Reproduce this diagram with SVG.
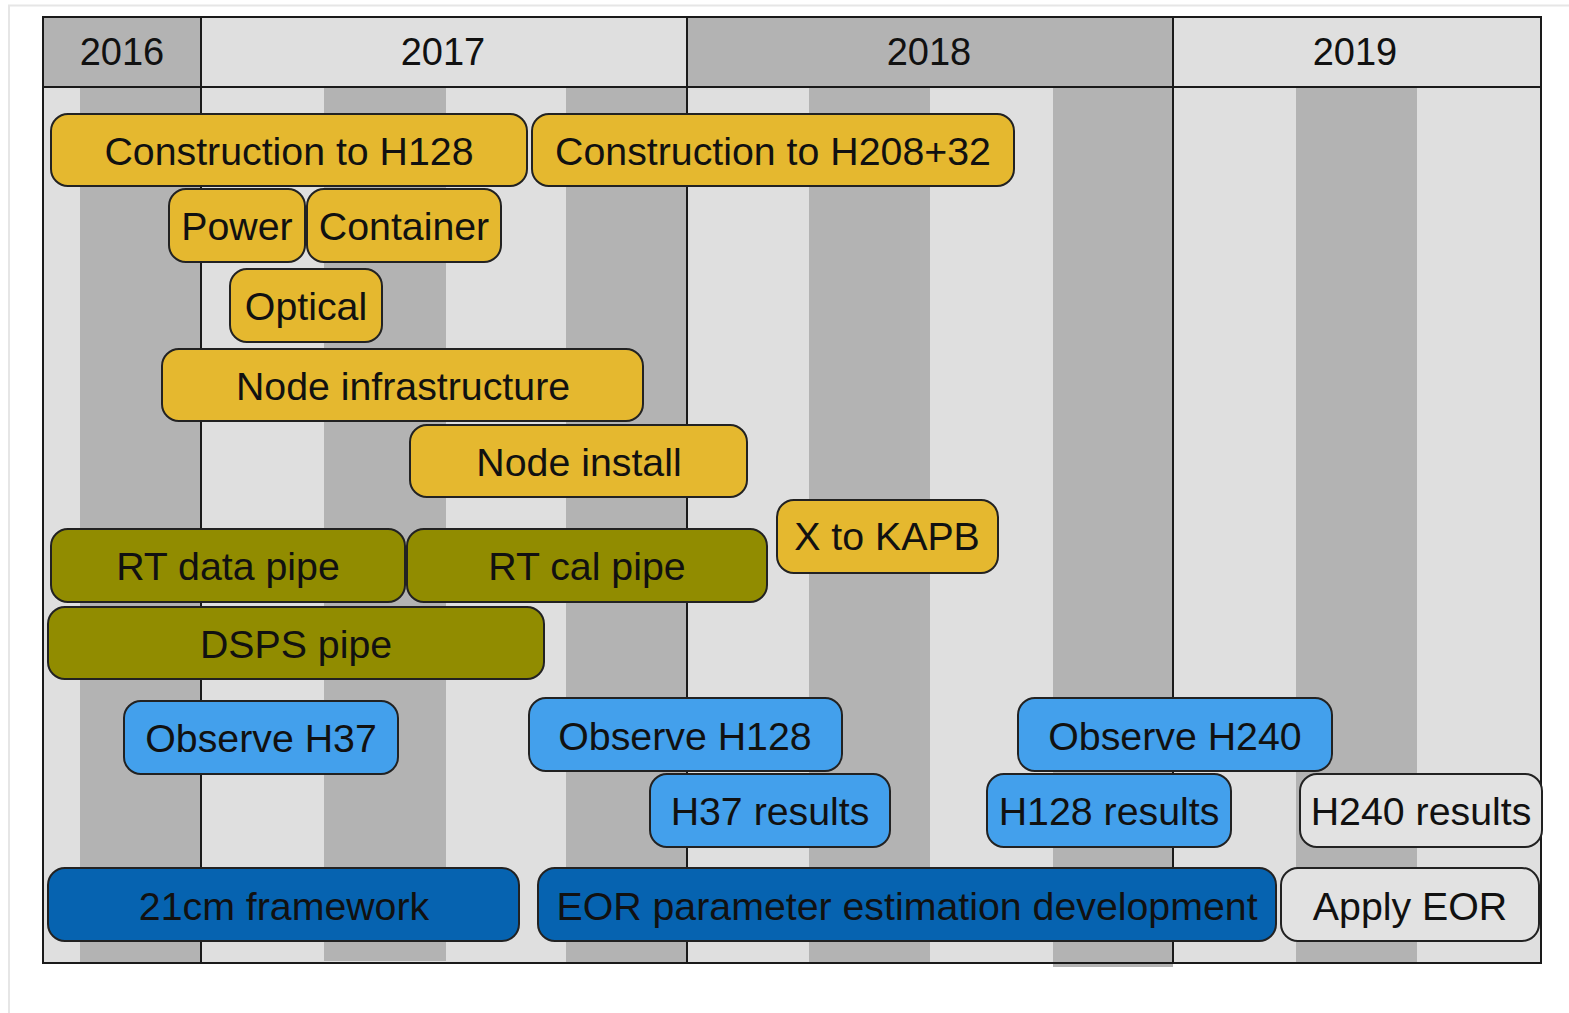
<svg xmlns="http://www.w3.org/2000/svg" width="1569" height="1013" viewBox="0 0 1569 1013">
<style>
.bg{fill:#dfdfdf}
.dk{fill:#b3b3b3}
.ln{stroke:#1a1a1a;stroke-width:2;fill:none}
.box{stroke:#222;stroke-width:2}
.y{fill:#e5b82f}
.o{fill:#918c00}
.lb{fill:#43a0ec}
.db{fill:#0663b0}
.g{fill:#e2e2e2}
text{font-family:"Liberation Sans",Arial,Helvetica,sans-serif;font-size:39.3px;fill:#111;text-anchor:middle}
#header text{font-size:38px}
</style>
<rect x="0" y="0" width="1569" height="1013" fill="#ffffff"/>
<path d="M9 1013 V5.5 H1569" stroke="#e6e6e6" stroke-width="2" fill="none"/>
<g id="background">
<rect class="bg" x="43" y="87" width="1498" height="876"/>
<rect class="dk" x="80" y="87" width="121" height="876"/>
<rect class="dk" x="324" y="87" width="122" height="874"/>
<rect class="dk" x="566" y="87" width="121" height="876"/>
<rect class="dk" x="809" y="87" width="121" height="876"/>
<rect class="dk" x="1053" y="87" width="120" height="880"/>
<rect class="dk" x="1296" y="87" width="121" height="876"/>
</g>
<g id="header">
<rect class="dk" x="43" y="17" width="158" height="70"/>
<rect class="bg" x="201" y="17" width="486" height="70"/>
<rect class="dk" x="687" y="17" width="486" height="70"/>
<rect class="bg" x="1173" y="17" width="368" height="70"/>
<text x="122" y="65">2016</text>
<text x="443" y="65">2017</text>
<text x="929" y="65">2018</text>
<text x="1355" y="65">2019</text>
</g>
<g id="grid-lines">
<rect class="ln" x="43" y="17" width="1498" height="946"/>
<line class="ln" x1="43" y1="87" x2="1541" y2="87"/>
<line class="ln" x1="201" y1="17" x2="201" y2="963"/>
<line class="ln" x1="687" y1="17" x2="687" y2="963"/>
<line class="ln" x1="1173" y1="17" x2="1173" y2="963"/>
</g>
<g id="connectors"></g>
<g id="n1"><rect class="box y" x="51" y="114" width="476" height="72" rx="17"/><text x="289" y="165">Construction to H128</text></g>
<g id="n2"><rect class="box y" x="532" y="114" width="482" height="72" rx="17"/><text x="773" y="165">Construction to H208+32</text></g>
<g id="n3"><rect class="box y" x="169" y="189" width="136" height="73" rx="17"/><text x="237" y="240">Power</text></g>
<g id="n4"><rect class="box y" x="307" y="189" width="194" height="73" rx="17"/><text x="404" y="240">Container</text></g>
<g id="n5"><rect class="box y" x="230" y="269" width="152" height="73" rx="17"/><text x="306" y="320">Optical</text></g>
<g id="n6"><rect class="box y" x="162" y="349" width="481" height="72" rx="17"/><text x="403" y="400">Node infrastructure</text></g>
<g id="n7"><rect class="box y" x="410" y="425" width="337" height="72" rx="17"/><text x="579" y="476">Node install</text></g>
<g id="n8"><rect class="box y" x="777" y="500" width="221" height="73" rx="17"/><text x="887" y="550">X to KAPB</text></g>
<g id="n9"><rect class="box o" x="51" y="529" width="354" height="73" rx="17"/><text x="228" y="580">RT data pipe</text></g>
<g id="n10"><rect class="box o" x="407" y="529" width="360" height="73" rx="17"/><text x="587" y="580">RT cal pipe</text></g>
<g id="n11"><rect class="box o" x="48" y="607" width="496" height="72" rx="17"/><text x="296" y="658">DSPS pipe</text></g>
<g id="n12"><rect class="box lb" x="124" y="701" width="274" height="73" rx="17"/><text x="261" y="752">Observe H37</text></g>
<g id="n13"><rect class="box lb" x="529" y="698" width="313" height="73" rx="17"/><text x="685" y="750">Observe H128</text></g>
<g id="n14"><rect class="box lb" x="1018" y="698" width="314" height="73" rx="17"/><text x="1175" y="750">Observe H240</text></g>
<g id="n15"><rect class="box lb" x="650" y="774" width="240" height="73" rx="17"/><text x="770" y="825">H37 results</text></g>
<g id="n16"><rect class="box lb" x="987" y="774" width="244" height="73" rx="17"/><text x="1109" y="825">H128 results</text></g>
<g id="n17"><rect class="box g" x="1300" y="774" width="242" height="73" rx="17"/><text x="1421" y="825">H240 results</text></g>
<g id="n18"><rect class="box db" x="48" y="868" width="471" height="73" rx="17"/><text x="284" y="920">21cm framework</text></g>
<g id="n19"><rect class="box db" x="538" y="868" width="738" height="73" rx="17"/><text x="907" y="920">EOR parameter estimation development</text></g>
<g id="n20"><rect class="box g" x="1281" y="868" width="258" height="73" rx="17"/><text x="1410" y="920">Apply EOR</text></g>
</svg>
